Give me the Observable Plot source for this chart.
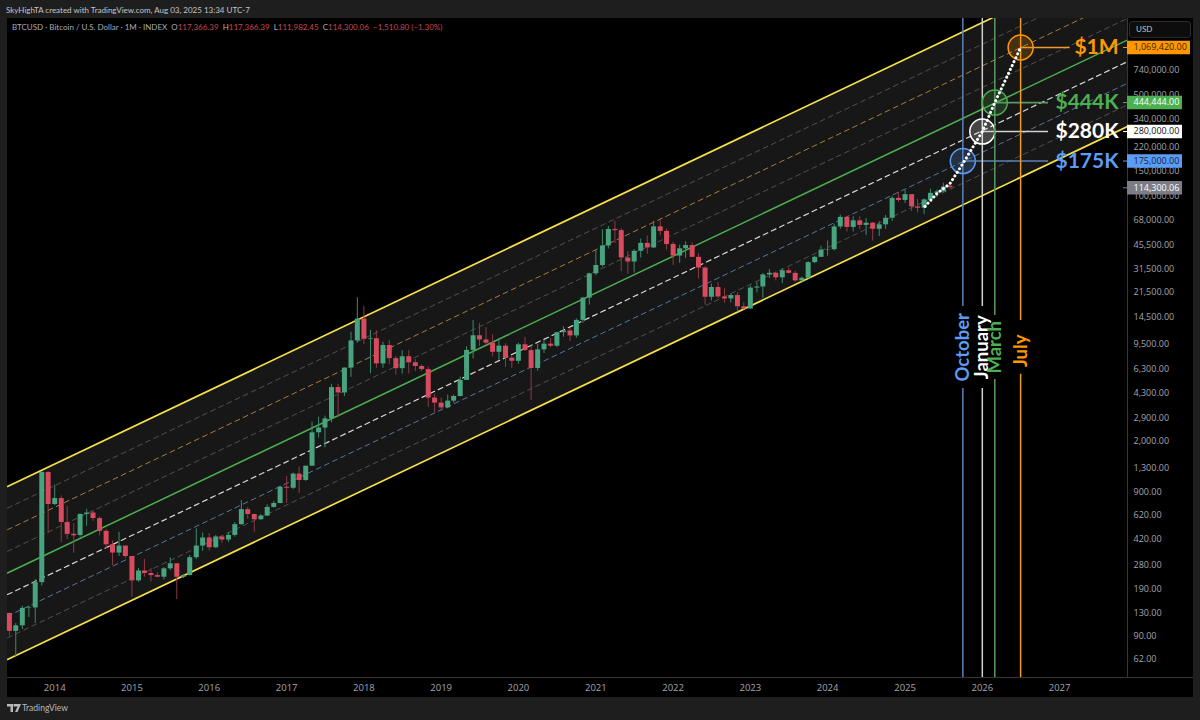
<!DOCTYPE html>
<html>
<head>
<meta charset="utf-8">
<script src="https://cdn.jsdelivr.net/npm/d3@7"></script>
<script src="https://cdn.jsdelivr.net/npm/@observablehq/plot@0.6"></script>
<style>
html,body{margin:0;padding:0;background:#1e1e1e;width:1200px;height:720px;overflow:hidden;font-family:Lato,sans-serif}
#pane{position:absolute;left:7px;top:18px;width:1186px;height:679px;background:#000}
#chart{position:absolute;left:0;top:0}
.t{position:absolute;white-space:nowrap}
#credit{left:6px;top:5px;font-size:8px;color:#c4c4c4}
#legend{left:12px;top:22px;font-size:8px;color:#a8abb4}
#legend b{font-weight:400;color:#c9434f}
#usd{left:1129px;top:21px;width:60px;height:15px;border:1px solid #2a2a2a;border-radius:3px;background:#0d0d0d;font-size:8px;color:#c4c4c4;line-height:15px;text-indent:6px}
#tv{left:22px;top:703px;font-size:8.5px;color:#b8b8b8}
#logo{position:absolute;left:7px;top:704px}
</style>
</head>
<body>
<div id="pane"></div>
<div id="chart"></div>
<div class="t" id="credit">SkyHighTA created with TradingView.com, Aug 03, 2025 13:34 UTC-7</div>
<div class="t" id="legend">BTCUSD · Bitcoin / U.S. Dollar · 1M · INDEX &nbsp;O<b>117,366.39</b> &nbsp;H<b>117,366.39</b> &nbsp;L<b>111,982.45</b> &nbsp;C<b>114,300.06</b> &nbsp;<b>−1,510.80 (−1.30%)</b></div>
<div class="t" id="usd">USD</div>
<svg id="logo" width="14" height="9" viewBox="0 0 14 9"><path fill="#b8b8b8" d="M0 0h6v8H3.5V2.5H0zM6.5 0h7.5l-3.5 8H8l2.5-5.5h-4z"/></svg>
<div class="t" id="tv">TradingView</div>
<script>
// Monthly BTCUSD candles, June 2013 to August 2025
const open = [
  129,97,106,140,141,211,1220,
  733,806,550,456,447,626,640,586,478,386,338,378,
  320,217,254,244,236,230,263,285,230,236,314,378,
  430,368,437,416,448,532,675,625,575,610,700,745,
  966,950,1190,1075,1350,2300,2480,2870,4730,4340,6450,9950,
  14100,10200,10300,6900,9250,7500,6390,7730,7020,6620,6300,4000,
  3690,3420,3810,4100,5300,8550,10800,10100,9600,8300,9150,7550,
  7190,9350,8530,6410,8630,9450,9140,11350,11650,10780,13800,19700,
  29000,33100,45200,58800,57700,37300,35000,41500,47100,43800,61300,57000,
  46300,38500,43200,45500,37700,31800,19950,23300,20050,19430,20500,17150,
  16540,23100,23500,28470,29250,27200,30450,29200,25900,27000,34650,37700,
  42300,42600,61200,71300,60700,67500,62700,65000,59000,63300,70300,96500,
  93400,102400,84300,82500,94200,104600,107100,117366.39];
const high = [
  130,110,145,145,222,1240,1240,
  1000,840,710,540,630,680,660,600,490,410,471,380,
  320,265,306,265,247,268,313,285,240,325,497,465,
  460,448,445,470,550,781,700,630,625,730,770,980,
  1145,1210,1330,1350,2725,2950,3000,4970,4980,6480,11440,19800,
  17250,11800,11700,9760,10000,7780,8500,8490,7400,6780,6560,4260,
  4000,4200,4200,5600,9080,13800,13150,12300,10950,10350,9500,7750,
  9580,10500,9190,9450,10070,10380,11400,12480,12100,14100,19900,29300,
  42000,58600,61700,67000,59500,41300,42600,50500,52900,66900,69000,59100,
  47900,45800,48200,47500,40000,32400,24700,25200,22800,21000,21450,18400,
  23900,25200,29200,31000,29800,31400,31800,30200,27500,35200,38400,45000,
  48900,64000,73800,72700,71900,71900,70000,65600,66500,73600,99800,106500,
  109400,102500,95000,95700,111800,110400,123000,117366.39];
const low = [
  90,65,100,121,110,200,460,
  720,400,420,337,434,518,560,445,360,277,320,310,
  167,212,230,213,228,220,255,161,225,235,305,348,
  350,363,395,400,435,525,580,470,570,605,690,740,
  746,930,875,1060,1350,2120,1810,2700,2950,4100,5560,9600,
  9400,5900,6430,6430,6800,5780,5860,5880,6100,6100,3450,3150,
  3340,3370,3680,4080,5300,7450,9100,9300,7700,7300,6520,6420,
  6860,8430,3860,6150,8130,8900,8980,10550,9850,10370,13200,17600,
  28100,32300,43000,47000,30000,28800,29300,37300,39600,43300,53300,42300,
  33000,34300,37100,37600,26700,17600,18800,19500,18150,18200,15800,16300,
  16500,21400,19600,26900,25900,24800,28900,25400,24900,26550,34100,40200,
  38500,41800,59000,56500,56500,58400,53500,49000,52500,58900,66800,90500,
  89200,78200,76600,74500,93400,98300,105100,111982.45];
const close = [
  97,106,140,141,211,1220,733,
  806,550,455,445,626,640,586,478,386,338,378,320,
  217,254,244,236,230,263,285,230,236,314,378,430,
  368,437,416,448,532,675,625,575,610,700,745,966,
  950,1190,1075,1350,2300,2480,2870,4730,4340,6450,9950,14100,
  10200,10300,6900,9250,7500,6390,7730,7020,6620,6300,4000,3690,
  3420,3810,4100,5300,8550,10800,10100,9600,8300,9150,7550,7190,
  9350,8530,6410,8630,9450,9140,11350,11650,10780,13800,19700,29000,
  33100,45200,58800,57700,37300,35000,41500,47100,43800,61300,57000,46300,
  38500,43200,45500,37700,31800,19950,23300,20050,19430,20500,17150,16540,
  23100,23500,28470,29250,27200,30450,29200,25900,27000,34650,37700,42300,
  42600,61200,71300,60700,67500,62700,65000,59000,63300,70300,96500,93400,
  102400,84300,82500,94200,104600,107100,115700,114300.06];
const months = d3.utcMonth.range(new Date(Date.UTC(2013,5,1)), new Date(Date.UTC(2025,8,1)));
const candles = months.map((date,i)=>({date,o:open[i],h:high[i],l:low[i],c:close[i]}));
const upCandles = candles.filter(d=>d.c>=d.o);
const downCandles = candles.filter(d=>d.c<d.o);

// Scale extents
const xDomain = [new Date("2013-05-23"), new Date("2027-11-18")];
const yDomain = [46.5, 1697900];

// Log channel: value of each of the nine levels at the left and right frame edges
const channelStart = [62,87.5,123.5,174.4,246.2,347.5,490.5,692.4,977];
const channelEnd = [303600,428600,605000,854000,1205500,1702000,2402000,3391000,4787000];
const channelColors = ["#f7e04a","#505050","#56759c","#d9d9d9","#4caf50","#505050","#a87c3c","#505050","#f7e04a"];
const channelWidths = [1.7,1,1,1.2,1.5,1,1,1,1.7];
const channelDash = ["none","5 4","5 4","5 4","none","5 4","5 4","5 4","none"];

// Price axis and time axis ticks
const priceTicks = [62,90,130,190,280,420,620,900,1300,2000,2900,4300,6300,9500,14500,21500,31500,45500,68000,100000,150000,220000,340000,500000,740000];
const yearTicks = [2014,2015,2016,2017,2018,2019,2020,2021,2022,2023,2024,2025,2026,2027].map(y=>new Date(Date.UTC(y,0,1)));

// Projection annotations
const targetNames = ["$175K","$280K","$444K","$1M"];
const targetMonths = ["October","January","March","July"];
const targetDates = ["2025-10-01","2026-01-01","2026-03-01","2026-07-01"].map(d=>new Date(d));
const targetValues = [175000,280000,444444,1069420];
const targetColors = ["#5b9cf6","#ffffff","#4caf50","#ff9800"];
const targetLineColors = ["#5a82b8","#d0d0d0","#5a9a5e","#f09a28"];
const targetLabelEnds = ["2026-11-10","2026-11-10","2026-11-10","2027-02-20"].map(d=>new Date(d));
const gapTops = [17250,17250,14920,13760];
const gapBottoms = [4660,4660,5378,5844];
const monthLabelValue = [8990,8990,8990,8490];
const labelAnchor = new Date("2027-10-07");
const boxTextColors = ["#10233f","#111111","#ffffff","#3a2400"];

// Dotted projection path
const pathDates = ["2025-04-05","2025-06-01","2025-08-01","2025-10-01","2026-01-01","2026-03-01","2026-07-01"].map(d=>new Date(d));
const pathValues = [84900,104400,122000,168000,280000,444444,1069420];

const font = 'Lato,sans-serif';
const tickFont = '"Open Sans",sans-serif';
const fmt = d3.format(",.2f");
const marks = [
  Plot.areaY(xDomain, {x:d=>d, y1:[channelStart[0],channelEnd[0]], y2:[channelStart[8],channelEnd[8]], fill:"#171717", clip:true}),
  ...channelStart.map((s,i)=>Plot.line(xDomain, {x:d=>d, y:[s,channelEnd[i]], stroke:channelColors[i], strokeWidth:channelWidths[i], strokeDasharray:channelDash[i], clip:true})),
  Plot.ruleX([xDomain[1]], {stroke:"#363636"}),
  Plot.ruleY([yDomain[0]], {stroke:"#363636", insetRight:-66}),
  Plot.text(priceTicks, {y:d=>d, x:()=>xDomain[1], dx:6, textAnchor:"start", text:d=>fmt(d), fill:"#a3a6ae", fontSize:9, fontFamily:tickFont}),
  Plot.text(yearTicks, {x:d=>d, frameAnchor:"bottom", dy:13, text:d=>String(d.getUTCFullYear()), fill:"#a3a6ae", fontSize:9.5, fontFamily:tickFont}),
  Plot.ruleX(downCandles, {x:"date", y1:"l", y2:"h", stroke:"#8f3a47", strokeWidth:1}),
  Plot.ruleX(upCandles, {x:"date", y1:"l", y2:"h", stroke:"#3d8a6c", strokeWidth:1}),
  Plot.ruleX(downCandles, {x:"date", y1:"o", y2:"c", stroke:"#d84b5e", strokeWidth:5}),
  Plot.ruleX(upCandles, {x:"date", y1:"o", y2:"c", stroke:"#48a37f", strokeWidth:5}),
];
targetNames.forEach((name,i)=>{
  const row = [{date:targetDates[i], value:targetValues[i]}];
  marks.push(
    Plot.ruleX(row, {x:"date", y1:yDomain[1], y2:gapTops[i], stroke:targetLineColors[i], strokeWidth:1.5}),
    Plot.ruleX(row, {x:"date", y1:gapBottoms[i], y2:yDomain[0], stroke:targetLineColors[i], strokeWidth:1.5}),
    Plot.text(row, {x:"date", y:()=>monthLabelValue[i], text:()=>targetMonths[i], rotate:-90, fill:targetColors[i], fontSize:18.5, fontWeight:700, fontFamily:font}),
    Plot.dot(row, {x:"date", y:"value", r:12.5, fill:targetColors[i], fillOpacity:0.2, stroke:targetColors[i], strokeWidth:1.5}),
    Plot.ruleY(row, {y:"value", x1:"date", x2:()=>targetLabelEnds[i], stroke:targetLineColors[i], strokeWidth:1.6}),
    Plot.text(row, {x:()=>labelAnchor, y:"value", text:()=>name, textAnchor:"end", fill:targetColors[i], fontSize:21, fontWeight:700, fontFamily:font})
  );
});
marks.push(
  Plot.line(pathDates, {x:d=>d, y:pathValues, stroke:"#ffffff", strokeWidth:3, strokeLinecap:"round", strokeDasharray:"0.1 4.2", curve:"linear"})
);
// Price-axis tags
const tags = [
  {v:114300.06, fill:"#7b7d86", text:"#ffffff", ins:-55},
  {v:175000, fill:"#5b9cf6", text:boxTextColors[0], ins:-55},
  {v:280000, fill:"#ffffff", text:boxTextColors[1], ins:-55},
  {v:444444, fill:"#4caf50", text:boxTextColors[2], ins:-55},
  {v:1069420, fill:"#ff9800", text:boxTextColors[3], ins:-63}
];
tags.forEach(t=>{
  marks.push(
    Plot.ruleY([t.v], {insetLeft:1120, insetRight:t.ins, stroke:t.fill, strokeWidth:13.5}),
    Plot.ruleY([t.v], {insetLeft:1116, insetRight:0, stroke:t.fill, strokeWidth:1}),
    Plot.text([t.v], {y:d=>d, x:()=>xDomain[1], dx:6, textAnchor:"start", text:d=>fmt(d), fill:t.text, fontSize:9, fontFamily:tickFont})
  );
});

const svg = Plot.plot({
  width:1200, height:720,
  marginLeft:7, marginRight:73, marginTop:18, marginBottom:43,
  style:{background:"transparent", fontFamily:font, fontSize:"9px"},
  x:{type:"utc", domain:xDomain, axis:null},
  y:{type:"log", domain:yDomain, axis:null},
  marks
});
document.getElementById("chart").appendChild(svg);
</script>
</body>
</html>
